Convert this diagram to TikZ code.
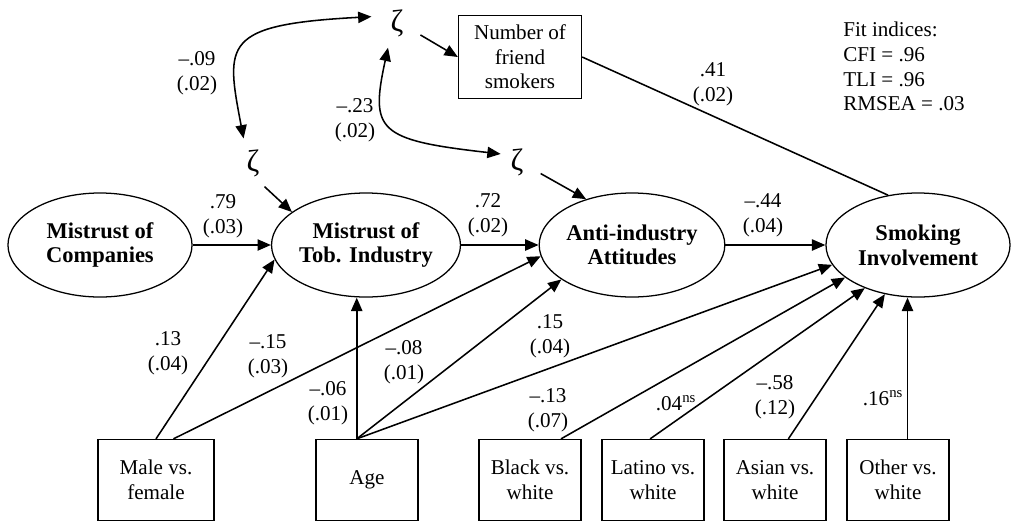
\documentclass[tikz,border=0pt]{standalone}
\usepackage{fontspec}
\setmainfont{Liberation Serif}
\usetikzlibrary{arrows.meta,shapes.geometric}
\tikzset{
	latent/.style={ellipse, draw, line width=0.9pt, minimum width=4.6cm, minimum height=2.6cm, inner sep=0pt, align=center, font=\fontsize{16}{17.5}\selectfont\bfseries},
	observed/.style={rectangle, draw, line width=0.9pt, minimum width=2.55cm, minimum height=2.025cm, inner sep=0pt, align=center, font=\fontsize{15}{17.5}\selectfont},
	zeta/.style={circle, minimum size=1.3cm, inner sep=0pt, font=\fontsize{22}{22}\selectfont},
	coef/.style={align=center, inner sep=0pt, font=\fontsize{15}{17.5}\selectfont},
	effect/.style={-{Triangle[length=9.5pt,width=8pt]}, line width=1.1pt},
	cov/.style={{Triangle[length=9.5pt,width=8pt]}-{Triangle[length=9.5pt,width=8pt]}, line width=1.1pt},
}

\begin{document}
\begin{tikzpicture}[x=0.025cm, y=-0.025cm]
			%%%%% START %%%%%
			\useasboundingbox (0,0) rectangle (1014,522);
			
			\node[latent] (mcomp) at (100,245) {Mistrust of\\Companies};
			\node[latent] (mtob) at (366,245) {Mistrust of\\Tob. Industry};
			\node[latent] (anti) at (632,245) {Anti-industry\\Attitudes};
			\node[latent] (smok) at (918,245) {Smoking\\Involvement};
			
			\node[observed, minimum width=3.075cm, minimum height=2.075cm] (friend) at (520,57) {Number of\\friend\\smokers};
			
			\node[observed, minimum width=2.9cm] (male) at (156,480) {Male vs.\\female};
			\node[observed] (age) at (367,480) {Age};
			\node[observed] (black) at (530,480) {Black vs.\\white};
			\node[observed] (latino) at (653,480) {Latino vs.\\white};
			\node[observed] (asian) at (775,480) {Asian vs.\\white};
			\node[observed] (other) at (898,480) {Other vs.\\white};
			
			\node[zeta] (zt) at (397,23) {ζ};
			\node[zeta] (zl) at (253,163) {ζ};
			\node[zeta] (zr) at (517,162) {ζ};
			
			\node[coef, anchor=north west, align=left] (fit) at (843,22) {Fit indices:\\CFI = .96\\TLI = .96\\RMSEA = .03};
			
			\draw[effect] (mcomp) -- (mtob);
			\draw[effect] (mtob) -- (anti);
			\draw[effect] (anti) -- (smok);
			\draw[effect] (zt.-27) -- (friend.west);
			\draw[effect] (zl.-64) -- (mtob.156);
			\draw[effect] (zr.-26) -- (anti.135);
			\draw[line width=1.1pt] (friend.east) -- (smok.121);
			
			\draw[cov] (zl.111) .. controls +(-18,-95) and +(-150,8) .. (zt.166);
			\draw[cov, shorten >=-6pt] (zt.-110) .. controls +(-18,83) and +(-115,-13) .. (zr.160);
			
			\draw[effect] (male.north) -- (mtob.189);
			\draw[effect] (male.67) -- (anti.187);
			\draw[effect] (age.104) -- (age.104 |- mtob.south);
			\draw[effect] (age.104) -- (anti.206);
			\draw[effect] (age.104) -- (smok.193);
			\draw[effect] (black.53) -- (smok.204);
			\draw[effect] (latino.94) -- (smok.219);
			\draw[effect] (asian.72) -- (smok.236);
			\draw[effect] (other.77) -- (other.77 |- smok.south);
			
			\node[coef] (c09) at (197,73) {\textendash.09\\(.02)};
			\node[coef] (c23) at (355,120) {\textendash.23\\(.02)};
			\node[coef] (c79) at (223,216) {.79\\(.03)};
			\node[coef] (c72) at (488,215) {.72\\(.02)};
			\node[coef] (c44) at (763,215) {\textendash.44\\(.04)};
			\node[coef] (c41) at (713,84) {.41\\(.02)};
			\node[coef] (c13) at (168,353) {.13\\(.04)};
			\node[coef] (c15m) at (268,356) {\textendash.15\\(.03)};
			\node[coef] (c06) at (328,403) {\textendash.06\\(.01)};
			\node[coef] (c08) at (404,362) {\textendash.08\\(.01)};
			\node[coef] (c15) at (550,336) {.15\\(.04)};
			\node[coef] (c13m) at (548,410) {\textendash.13\\(.07)};
			\node[coef] (c04) at (676,403) {.04\textsuperscript{ns}};
			\node[coef] (c58) at (775,397) {\textendash.58\\(.12)};
			\node[coef] (c16) at (883,398) {.16\textsuperscript{ns}};
			
			%%%%% END %%%%%
\end{tikzpicture}
\end{document}
